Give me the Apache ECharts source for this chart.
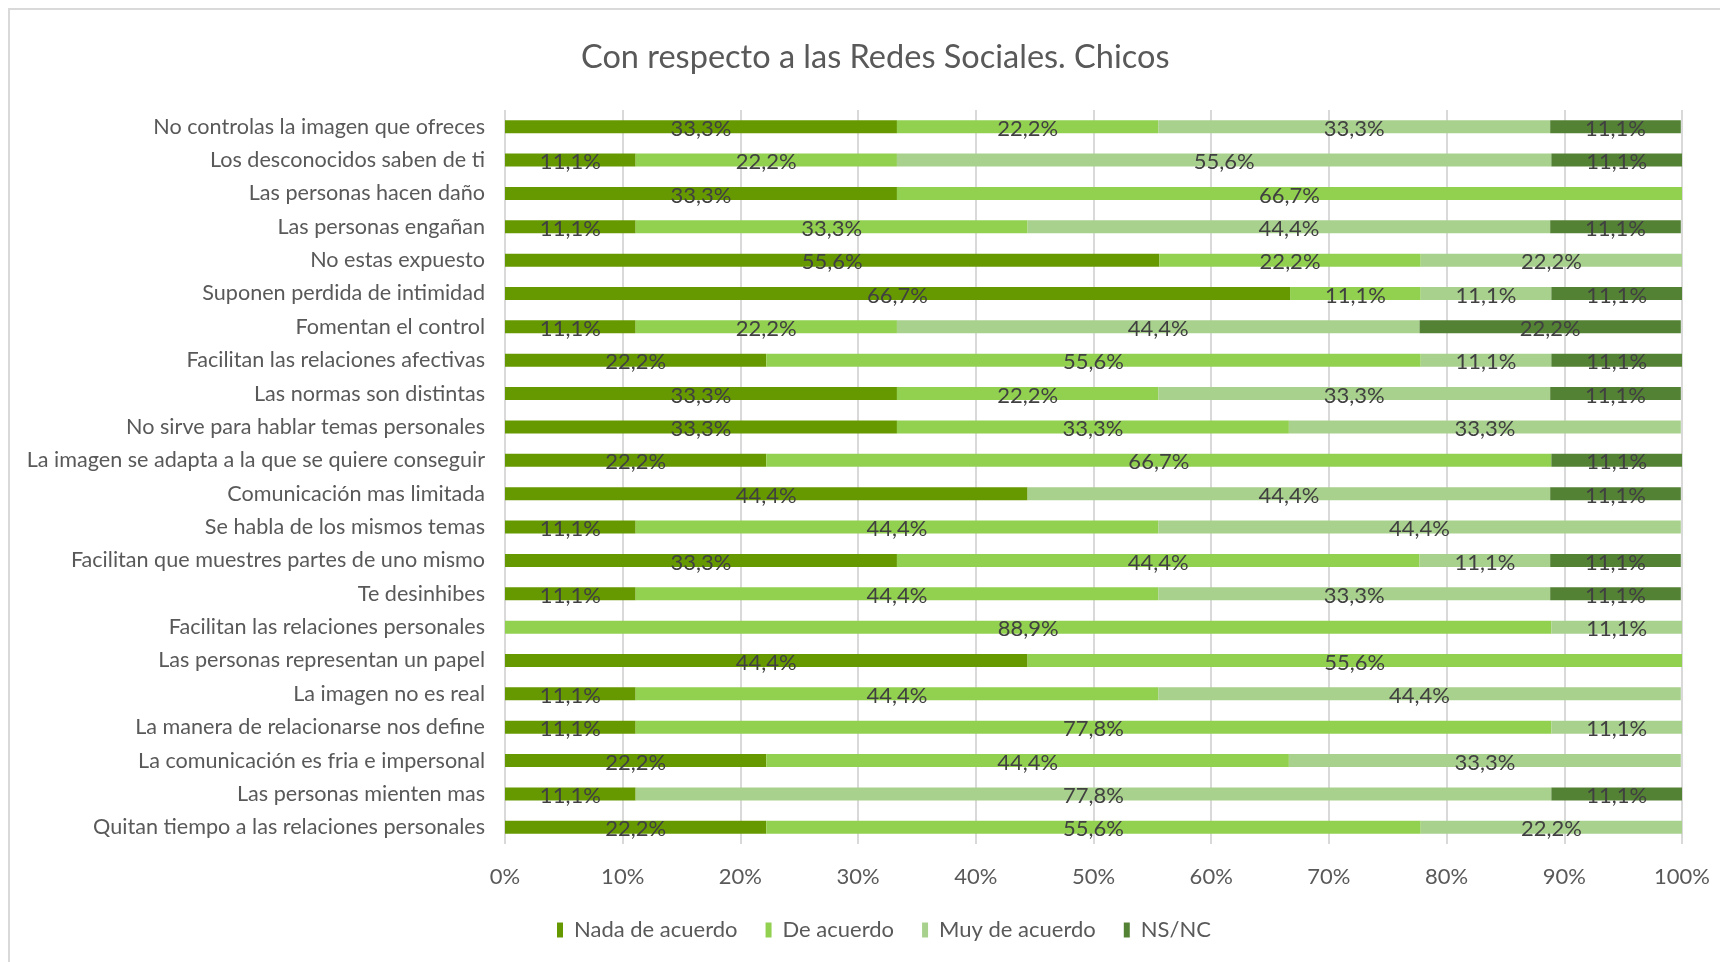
<!DOCTYPE html>
<html>
<head>
<meta charset="utf-8">
<script src="https://cdn.jsdelivr.net/npm/echarts@6/dist/echarts.min.js"></script>
<style>
  html, body { margin: 0; padding: 0; background: #fff; }
  #main { width: 1720px; height: 962px; }
</style>
</head>
<body>
<div id="main"></div>
<script>
// preguntas, de arriba hacia abajo
var categories = [
  'No controlas la imagen que ofreces',
  'Los desconocidos saben de ti',
  'Las personas hacen daño',
  'Las personas engañan',
  'No estas expuesto',
  'Suponen perdida de intimidad',
  'Fomentan el control',
  'Facilitan las relaciones afectivas',
  'Las normas son distintas',
  'No sirve para hablar temas personales',
  'La imagen se adapta a la que se quiere conseguir',
  'Comunicación mas limitada',
  'Se habla de los mismos temas',
  'Facilitan que muestres partes de uno mismo',
  'Te desinhibes',
  'Facilitan las relaciones personales',
  'Las personas representan un papel',
  'La imagen no es real',
  'La manera de relacionarse nos define',
  'La comunicación es fria e impersonal',
  'Las personas mienten mas',
  'Quitan tiempo a las relaciones personales'
];

var nada = [33.3, 11.1, 33.3, 11.1, 55.6, 66.7, 11.1, 22.2, 33.3, 33.3, 22.2, 44.4, 11.1, 33.3, 11.1, 0, 44.4, 11.1, 11.1, 22.2, 11.1, 22.2];
var deAcuerdo = [22.2, 22.2, 66.7, 33.3, 22.2, 11.1, 22.2, 55.6, 22.2, 33.3, 66.7, 0, 44.4, 44.4, 44.4, 88.9, 55.6, 44.4, 77.8, 44.4, 0, 55.6];
var muyDeAcuerdo = [33.3, 55.6, 0, 44.4, 22.2, 11.1, 44.4, 11.1, 33.3, 33.3, 0, 44.4, 44.4, 11.1, 33.3, 11.1, 0, 44.4, 11.1, 33.3, 77.8, 22.2];
var nsnc = [11.1, 11.1, 0, 11.1, 0, 11.1, 22.2, 11.1, 11.1, 0, 11.1, 11.1, 0, 11.1, 11.1, 0, 0, 0, 0, 0, 11.1, 0];

var tickLabels = ['0%', '10%', '20%', '30%', '40%', '50%', '60%', '70%', '80%', '90%', '100%'];

var font = 'Lato, "Open Sans", sans-serif';

function serie(name, data, color) {
  return {
    name: name,
    type: 'bar',
    stack: 'total',
    barWidth: 13,
    data: data,
    itemStyle: { color: color },
    label: {
      show: true,
      position: 'inside',
      offset: [0, 2],
      color: '#404040',
      fontFamily: font,
      fontSize: 22,
      formatter: function(p) {
        if (!p.value) return '';
        return p.value.toFixed(1).replace('.', ',') + '%';
      }
    }
  };
}

var chart = echarts.init(document.getElementById('main'));

var option = {
  backgroundColor: '#fff',
  animation: false,
  title: {
    text: 'Con respecto a las Redes Sociales. Chicos',
    left: 576,
    top: 36,
    textStyle: {
      fontFamily: font,
      fontSize: 32.5,
      fontWeight: 'normal',
      color: '#595959'
    }
  },
  graphic: [{
    type: 'rect',
    shape: { x: 9, y: 9, width: 1730, height: 980 },
    style: { fill: 'none', stroke: '#d9d9d9', lineWidth: 2 },
    silent: true
  }],
  legend: {
    bottom: 16,
    left: 552,
    itemWidth: 6,
    itemHeight: 15,
    itemGap: 28,
    icon: 'rect',
    textStyle: {
      fontFamily: font,
      fontSize: 22,
      color: '#595959',
      padding: [0, 0, 0, 6]
    },
    data: ['Nada de acuerdo', 'De acuerdo', 'Muy de acuerdo', 'NS/NC']
  },
  grid: {
    left: 505,
    right: 38,
    top: 110,
    bottom: 118
  },
  xAxis: {
    type: 'value',
    min: 0,
    max: 100,
    interval: 10,
    axisLine: { show: false },
    axisTick: { show: false },
    splitLine: { lineStyle: { color: '#d9d9d9', width: 2 } },
    axisLabel: {
      margin: 22,
      fontFamily: font,
      fontSize: 22,
      color: '#595959',
      formatter: function(v) { return tickLabels[Math.round(v / 10)]; }
    }
  },
  yAxis: {
    type: 'category',
    inverse: true,
    data: categories,
    axisLine: { show: false },
    axisTick: { show: false },
    axisLabel: {
      margin: 20,
      fontFamily: font,
      fontSize: 21.6,
      color: '#595959'
    }
  },
  series: [
    serie('Nada de acuerdo', nada, '#669900'),
    serie('De acuerdo', deAcuerdo, '#92d050'),
    serie('Muy de acuerdo', muyDeAcuerdo, '#a9d18e'),
    serie('NS/NC', nsnc, '#548235')
  ]
};

chart.setOption(option);
</script>
</body>
</html>
